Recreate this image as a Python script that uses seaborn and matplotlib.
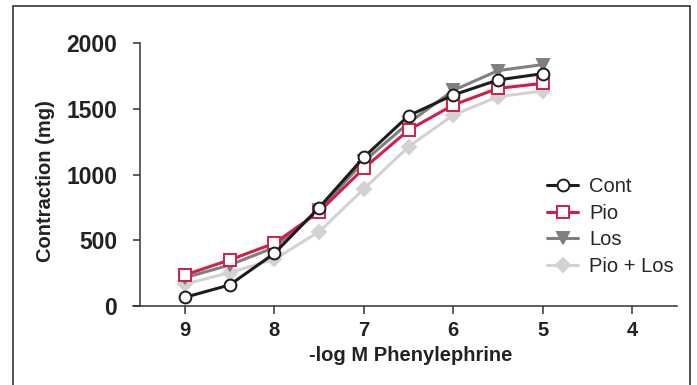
import numpy as np
import pandas as pd
import seaborn as sns
import matplotlib.pyplot as plt
from matplotlib.patches import Rectangle

# data
log_m = [9, 8.5, 8, 7.5, 7, 6.5, 6, 5.5, 5]
cont = [66, 160, 400, 748, 1131, 1447, 1605, 1719, 1767]
pio = [236, 350, 477, 717, 1047, 1338, 1529, 1655, 1693]
los = [215, 312, 445, 730, 1100, 1392, 1640, 1790, 1836]
pio_los = [167, 254, 355, 565, 890, 1212, 1452, 1592, 1635]

x_ticks = [9, 8, 7, 6, 5, 4]
y_ticks = [0, 500, 1000, 1500, 2000]

sns.set_theme(style="ticks")
plt.rcParams['font.family'] = ['Liberation Sans', 'DejaVu Sans']

fig = plt.figure(figsize=(6.97, 3.85), dpi=100)
ax = fig.add_axes([133/697, 79/385, 544/697, 263/385])

# (label, values, color, marker, face, size) - drawn back to front
series = [
    ("Pio + Los", pio_los, "#d2d2d2", "D", "#d2d2d2", 7.5),
    ("Los", los, "#7f7f7f", "v", "#7f7f7f", 8.5),
    ("Pio", pio, "#cf1f4c", "s", "white", 8.5),
    ("Cont", cont, "#1c1c1c", "o", "white", 8.5),
]

handles = {}
for name, vals, col, mk, face, ms in series:
    df = pd.DataFrame({"logM": log_m, "val": vals})
    sns.lineplot(data=df, x="logM", y="val", ax=ax, color=col, lw=2.2,
                 marker=mk, markersize=ms, markerfacecolor=face,
                 markeredgecolor=col, markeredgewidth=1.4, label=name)
    handles[name] = ax.get_lines()[-1]

ax.set_xlim(9.58, 3.5)
ax.set_ylim(0, 2000)
ax.spines['left'].set_position(('data', 9.5))
ax.spines['top'].set_visible(False)
ax.spines['right'].set_visible(False)
for s in ['left', 'bottom']:
    ax.spines[s].set_color("#333333")
    ax.spines[s].set_linewidth(1.1)

ax.set_xticks(x_ticks)
ax.set_yticks(y_ticks)
ax.tick_params(axis='y', length=5, width=1.1, color="#333333", pad=11.5,
               labelsize=16.5, labelcolor="#222222")
ax.tick_params(axis='x', length=5.5, width=1.1, color="#333333", pad=5,
               labelsize=14.5, labelcolor="#222222")
for lab in ax.get_xticklabels() + ax.get_yticklabels():
    lab.set_fontweight('bold')

ax.set_xlabel("-log M Phenylephrine", fontsize=14.5, fontweight='bold', color="#222222")
ax.set_ylabel("Contraction (mg)", fontsize=14.5, fontweight='bold', color="#222222")
ax.xaxis.set_label_coords(0.51, -0.152)
ax.yaxis.set_label_coords(-0.143, 0.475)

order = ["Cont", "Pio", "Los", "Pio + Los"]
ax.legend([handles[k] for k in order], order, loc='center left',
          bbox_to_anchor=(539/697, 0.4117), bbox_transform=fig.transFigure,
          frameon=False, fontsize=14.5, handlelength=1.55, handletextpad=0.55,
          labelspacing=0.38, borderaxespad=0, borderpad=0.4)

# outer frame of the figure (bottom edge cut off)
fig.patches.append(Rectangle((13/697, -0.02), 677/697, 0.9844 + 0.02,
                             transform=fig.transFigure, fill=False,
                             edgecolor="#222222", lw=1.1))

fig.savefig("out.png", dpi=100)
